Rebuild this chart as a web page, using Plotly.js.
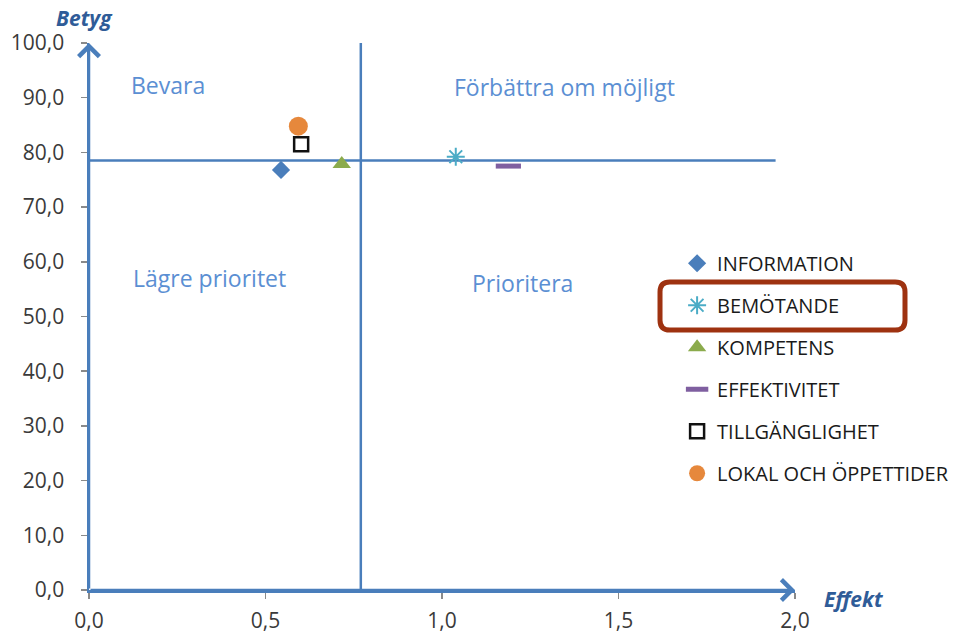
<!DOCTYPE html>
<html><head><meta charset="utf-8">
<script src="https://cdn.plot.ly/plotly-3.0.1.min.js"></script>
<style>body{margin:0;background:#fff}</style>
</head><body><div id="chart" style="width:961px;height:633px"></div>
<script>
// ---- data ----
const seriesNames = ['INFORMATION', 'BEMÖTANDE', 'KOMPETENS', 'EFFEKTIVITET', 'TILLGÄNGLIGHET', 'LOKAL OCH ÖPPETTIDER'];
const effektValues = [0.544, 1.039, 0.716, 1.188, 0.601, 0.593];
const betygValues = [76.8, 79.2, 77.9, 77.5, 81.5, 84.8];
const effektThreshold = 0.77;   // vertical divider
const betygThreshold = 78.5;    // horizontal divider
const effektLineEnd = 1.945;
const betygMax = 100;
const quadrantLabels = ['Bevara', 'Förbättra om möjligt', 'Lägre prioritet', 'Prioritera'];
const quadrantX = [0.224, 1.348, 0.34, 1.229];
const quadrantY = [92.3, 92.0, 57.0, 56.1];
const xTickVals = [0, 0.5, 1, 1.5, 2];
const yTickVals = [0, 10, 20, 30, 40, 50, 60, 70, 80, 90, 100];

// ---- styles ----
const symbols = ['diamond', 'asterisk-open', 'triangle-up', 'line-ew', 'square-open', 'circle'];
const colors = ['#4a7ebb', '#4bacc6', '#8bab4c', '#7f5fa0', '#111111', '#e6883c'];
const sizes = [14, 15, 16, 18, 14, 19];
const lineWidths = [0, 2, 0, 5, 2.5, 0];
const axisBlue = '#4a7ebb';
const labelBlue = '#5b8fd3';
const titleBlue = '#2f5c98';
const FONT = 'Open Sans, sans-serif';

const traces = [];
traces.push({
  x: [effektThreshold, effektThreshold], y: [0, betygMax], mode: 'lines',
  line: {color: axisBlue, width: 2.5}, showlegend: false, hoverinfo: 'skip'
});
traces.push({
  x: [0, effektLineEnd], y: [betygThreshold, betygThreshold], mode: 'lines',
  line: {color: axisBlue, width: 2.5}, showlegend: false, hoverinfo: 'skip'
});
seriesNames.forEach((name, i) => {
  traces.push({
    x: [effektValues[i]], y: [betygValues[i]], name: name, mode: 'markers',
    type: 'scatter', legendgroup: 'g' + i, cliponaxis: false,
    marker: {
      symbol: symbols[i], size: sizes[i], color: colors[i],
      line: {color: colors[i], width: lineWidths[i]}
    }
  });
});

const annotations = quadrantLabels.map((t, i) => ({
  x: quadrantX[i], y: quadrantY[i], xref: 'x', yref: 'y', text: t, showarrow: false,
  xanchor: 'center', yanchor: 'middle',
  font: {family: FONT, size: 23, color: labelBlue}
}));
// axis arrows
annotations.push({x: 0, y: betygMax, ax: 0, ay: 0, xref: 'x', yref: 'y', axref: 'x', ayref: 'y',
  text: '', showarrow: true, arrowhead: 4, arrowsize: 1.6, arrowwidth: 2.5, arrowcolor: axisBlue, standoff: 0});
annotations.push({x: xTickVals[xTickVals.length - 1], y: 0, ax: 0, ay: 0, xref: 'x', yref: 'y', axref: 'x', ayref: 'y',
  text: '', showarrow: true, arrowhead: 4, arrowsize: 1.6, arrowwidth: 2.5, arrowcolor: axisBlue, standoff: 0});
// axis titles
annotations.push({x: -0.007, y: 1.046, xref: 'paper', yref: 'paper', xanchor: 'center', yanchor: 'middle',
  text: '<b><i>Betyg</i></b>', showarrow: false, font: {family: FONT, size: 21, color: titleBlue}});
annotations.push({x: 1.083, y: -0.017, xref: 'paper', yref: 'paper', xanchor: 'center', yanchor: 'middle',
  text: '<b><i>Effekt</i></b>', showarrow: false, font: {family: FONT, size: 21, color: titleBlue}});

// rounded highlight box around BEMÖTANDE legend entry (paper coords)
const bx0 = 0.8088, bx1 = 1.1558, by0 = 0.4753, by1 = 0.5631, rx = 0.014, ry = 0.018;
const boxPath = `M ${bx0 + rx} ${by1} L ${bx1 - rx} ${by1} Q ${bx1} ${by1} ${bx1} ${by1 - ry} L ${bx1} ${by0 + ry} Q ${bx1} ${by0} ${bx1 - rx} ${by0} L ${bx0 + rx} ${by0} Q ${bx0} ${by0} ${bx0} ${by0 + ry} L ${bx0} ${by1 - ry} Q ${bx0} ${by1} ${bx0 + rx} ${by1} Z`;

const layout = {
  width: 961, height: 633,
  margin: {l: 89, r: 166, t: 43, b: 43, autoexpand: false},
  paper_bgcolor: '#fff', plot_bgcolor: '#fff',
  separators: ',.',
  showlegend: true,
  legend: {x: 0.833, y: 0.633, xanchor: 'left', yanchor: 'top', bgcolor: 'rgba(0,0,0,0)',
    font: {family: FONT, size: 20, color: '#1a1a1a'}, tracegroupgap: 13, traceorder: 'grouped',
    itemsizing: 'trace'},
  xaxis: {range: [0, 2], tickvals: xTickVals, tickformat: '.1f', showgrid: false, zeroline: false,
    showline: true, linecolor: axisBlue, linewidth: 2.5, ticks: 'outside', ticklen: 6, tickcolor: '#8a8a8a', tickwidth: 1.5,
    ticklabelstandoff: 4,
    tickfont: {family: FONT, size: 21, color: '#3a3a3a'}},
  yaxis: {range: [0, 100], tickvals: yTickVals, tickformat: '.1f', showgrid: false, zeroline: false,
    showline: true, linecolor: axisBlue, linewidth: 2.5, ticks: 'outside', ticklen: 6, tickcolor: '#8a8a8a', tickwidth: 1.5,
    ticklabelstandoff: 12,
    tickfont: {family: FONT, size: 21, color: '#3a3a3a'}},
  annotations: annotations,
  shapes: [{type: 'path', xref: 'paper', yref: 'paper', path: boxPath, line: {color: '#9e3210', width: 5}}]
};
Plotly.newPlot('chart', traces, layout, {displayModeBar: false, staticPlot: true});
</script></body></html>
